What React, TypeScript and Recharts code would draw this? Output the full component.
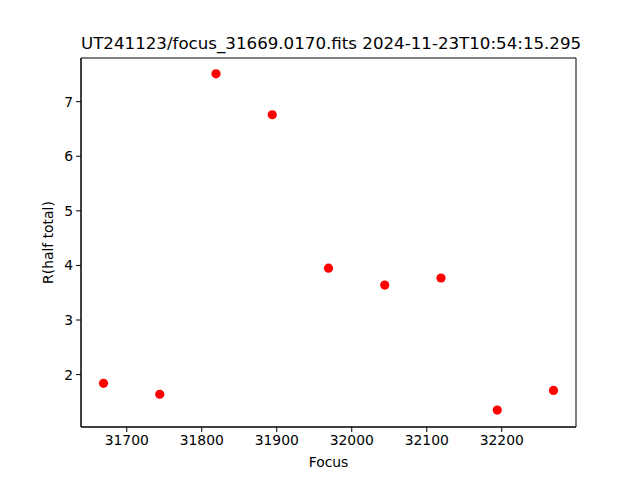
import { ScatterChart, Scatter, XAxis, YAxis, ReferenceArea, Label } from 'recharts';

// focus positions and measured half-total radius
const focusValues = [31669, 31744, 31819, 31894, 31969, 32044, 32119, 32194, 32269];
const radiusValues = [1.84, 1.64, 7.51, 6.76, 3.95, 3.64, 3.77, 1.35, 1.71];
const xTicks = [31700, 31800, 31900, 32000, 32100, 32200];
const yTicks = [2, 3, 4, 5, 6, 7];
const xDomain = [31639, 32299];
const yDomain = [1.04, 7.8];

const points = focusValues.map((f, i) => ({ focus: f, r: radiusValues[i] }));

const font = '"DejaVu Sans", sans-serif';

const Dot = (props: any) => <circle cx={props.cx} cy={props.cy} r={4.6} fill="#ff0000" />;

export default function App() {
  return (
    <div style={{ position: 'absolute', left: 0, top: 0, width: 640, height: 480, background: '#fff', fontFamily: font }}>
      <div
        style={{
          position: 'absolute',
          top: 36,
          left: 81,
          width: 495,
          textAlign: 'center',
          fontSize: 16.67,
          lineHeight: '16.67px',
          color: '#000',
          whiteSpace: 'nowrap',
        }}
      >
        UT241123/focus_31669.0170.fits 2024-11-23T10:54:15.295
      </div>
      <ScatterChart width={640} height={480} margin={{ top: 58, right: 64, bottom: 23, left: 21 }}>
        <XAxis
          type="number"
          dataKey="focus"
          domain={xDomain}
          ticks={xTicks}
          allowDataOverflow
          height={30}
          tickSize={5}
          tickMargin={3}
          axisLine={{ stroke: '#000' }}
          tickLine={{ stroke: '#000' }}
          tick={{ fill: '#000', fontSize: 13.9, fontFamily: font }}
        >
          <Label value="Focus" position="insideBottom" offset={-10} fill="#000" fontSize={13.9} fontFamily={font} />
        </XAxis>
        <YAxis
          type="number"
          dataKey="r"
          domain={yDomain}
          ticks={yTicks}
          allowDataOverflow
          width={60}
          tickSize={5}
          tickMargin={3}
          axisLine={{ stroke: '#000' }}
          tickLine={{ stroke: '#000' }}
          tick={{ fill: '#000', fontSize: 13.9, fontFamily: font }}
        >
          <Label
            value="R(half total)"
            angle={-90}
            position="insideLeft"
            offset={27}
            style={{ textAnchor: 'middle' }}
            fill="#000"
            fontSize={13.9}
            fontFamily={font}
          />
        </YAxis>
        <ReferenceArea
          x1={xDomain[0]}
          x2={xDomain[1]}
          y1={yDomain[0]}
          y2={yDomain[1]}
          fill="none"
          stroke="#000"
          strokeWidth={1}
          fillOpacity={0}
          strokeOpacity={1}
        />
        <Scatter data={points} shape={Dot} isAnimationActive={false} />
      </ScatterChart>
    </div>
  );
}
